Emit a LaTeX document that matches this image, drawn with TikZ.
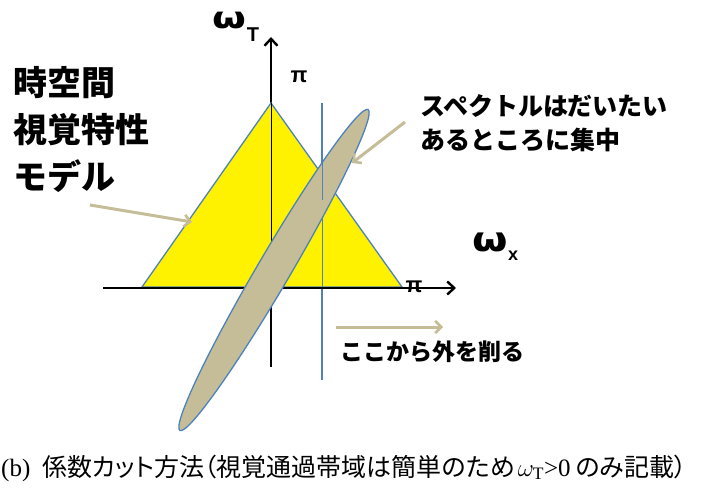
\documentclass[tikz,border=0pt]{standalone}
\usepackage{fontspec}
\setmainfont{Liberation Serif}
\newfontfamily\jp{Noto Sans CJK JP}
\newfontfamily\jpcap[RawFeature=+palt]{Noto Sans CJK JP}
\newfontfamily\lbsans{Liberation Sans}
\newfontfamily\dvsans{DejaVu Sans}
\usepackage{tikz}
\usetikzlibrary{arrows.meta}
\definecolor{edgeblue}{RGB}{79,129,189}
\definecolor{tanc}{RGB}{196,189,151}

\begin{document}
\begin{tikzpicture}[x=1pt, y=-1pt,
    axis/.style={line width=2.6pt, -{Straight Barb[length=7pt,width=13pt,line width=2.4pt]}},
    hint/.style={line width=3pt, draw=tanc, -{Straight Barb[length=6pt,width=12pt,line width=2.6pt]}},
    omega/.style={font=\dvsans\bfseries\fontsize{30}{30}\selectfont, inner sep=0pt},
    lbl/.style={font=\jp\bfseries, align=left, inner sep=0pt, anchor=north west}]
  \useasboundingbox (0,0) rectangle (715,489);

  % Axes and cut line (behind the shapes)
  \coordinate (o) at (271,288);
  \coordinate (apex) at (271,103);
  \coordinate (xl) at (103,288);
  \coordinate (xr) at (456,288);
  \coordinate (tb) at (271,367);
  \coordinate (tt) at (271,37);
  \coordinate (cutt) at (322,103);
  \coordinate (cutb) at (322,380);
  \draw[line width=2.6pt] (tb) -- (apex);
  \draw[axis] (apex) -- (tt);
  \draw[draw=edgeblue, line width=1.8pt] (cutt) -- (cutb);

  % Visual model (triangle)
  \coordinate (bl) at (142,287);
  \coordinate (br) at (402,287);
  \draw[fill=yellow, draw=edgeblue, line width=1.3pt] (apex) -- (br) -- (bl) -- cycle;
  \draw[line width=0.5pt] (apex) -- (o);
  \draw[draw=edgeblue, line width=0.5pt] (cutt) -- (cutb);
  \draw[axis] (xl) -- (xr);

  % Spectrum (ellipse)
  \coordinate (sc) at (274,270);
  \draw[fill=tanc, draw=edgeblue, line width=1.3pt, rotate around={59.6:(sc)}]
    (sc) ellipse (186 and 16.5);
  \draw[draw=edgeblue, line width=0.5pt] (322,160) -- (322,200);

  % Axis labels
  \node[omega] (wt) at (229,21) {\scalebox{1.3}[1]{ω}};
  \node[font=\lbsans\bfseries\fontsize{20}{20}\selectfont, inner sep=0pt] (wtsub) at (253,35) {T};
  \node[font=\lbsans\bfseries\fontsize{22}{22}\selectfont, inner sep=0pt] (pit) at (299,77) {π};
  \node[omega, font=\dvsans\bfseries\fontsize{34}{34}\selectfont] (wx) at (490,242) {\scalebox{1.2}[1]{ω}};
  \node[font=\lbsans\bfseries\fontsize{18}{18}\selectfont, inner sep=0pt] (wxsub) at (513,256) {x};
  \node[font=\lbsans\bfseries\fontsize{22}{22}\selectfont, inner sep=0pt] (pix) at (414,287) {π};

  % Labels
  \node[lbl, font=\jp\bfseries\fontsize{34}{47}\selectfont] (model) at (13,66)
    {時空間\\視覚特性\\モデル};
  \node[lbl, font=\jp\bfseries\fontsize{25}{34}\selectfont] (spec) at (420,94)
    {スペクトルはだいたい\\あるところに集中};
  \node[lbl, font=\jp\bfseries\fontsize{23}{23}\selectfont] (cut) at (340,341)
    {ここから外を削る};

  % Pointers
  \coordinate (m1) at (90,205);
  \coordinate (m2) at (192,222);
  \coordinate (s1) at (405,122);
  \coordinate (s2) at (352,163);
  \coordinate (c1) at (336,327);
  \coordinate (c2) at (443,327);
  \draw[hint] (m1) -- (m2);
  \draw[hint] (s1) -- (s2);
  \draw[hint] (c1) -- (c2);

  % Caption
  \node[anchor=base west, inner sep=0pt, font=\fontsize{25}{25}\selectfont] (cap) at (1,476)
    {(b)\hspace{12pt}{\jpcap 係数カット方法（視覚通過帯域は簡単のため}\hspace{3pt}$\omega_{\mathrm{T}}$>0\hspace{5pt}{\jpcap のみ記載）}};
\end{tikzpicture}
\end{document}
